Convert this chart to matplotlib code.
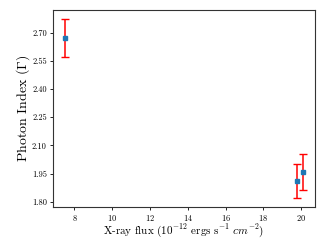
import matplotlib
matplotlib.use('Agg')
import matplotlib.pyplot as plt

plt.rcParams['font.family'] = 'serif'
plt.rcParams['font.serif'] = ['cmr10', 'DejaVu Serif']
plt.rcParams['mathtext.fontset'] = 'cm'
plt.rcParams['axes.formatter.use_mathtext'] = True

flux = [7.5, 19.79, 20.1]
gamma = [2.672, 1.909, 1.958]
gamma_err = [0.10, 0.089, 0.098]
yticks = [1.80, 1.95, 2.10, 2.25, 2.40, 2.55, 2.70]

fig, ax = plt.subplots(figsize=(3.2, 2.4), dpi=100)
ax.errorbar(flux, gamma, yerr=gamma_err, fmt='s', color='tab:blue', ecolor='red',
            markersize=2.7, capsize=2.8, elinewidth=1.1, capthick=1)
ax.set_yticks(yticks)
ax.set_yticklabels([f'{t:.2f}' for t in yticks])
ax.tick_params(labelsize=6, length=2.5, width=0.6, pad=2)
ax.set_xlabel(r'X-ray flux ($10^{-12}$ ergs s$^{-1}$ $cm^{-2}$)', fontsize=8, labelpad=-1)
ax.set_ylabel(r'Photon Index ($\Gamma$)', fontsize=10, labelpad=0)
for s in ax.spines.values():
    s.set_linewidth(0.8)
    s.set_color('#333333')
fig.subplots_adjust(left=0.166, right=0.984, top=0.958, bottom=0.138)
fig.savefig('out.png', dpi=100)
